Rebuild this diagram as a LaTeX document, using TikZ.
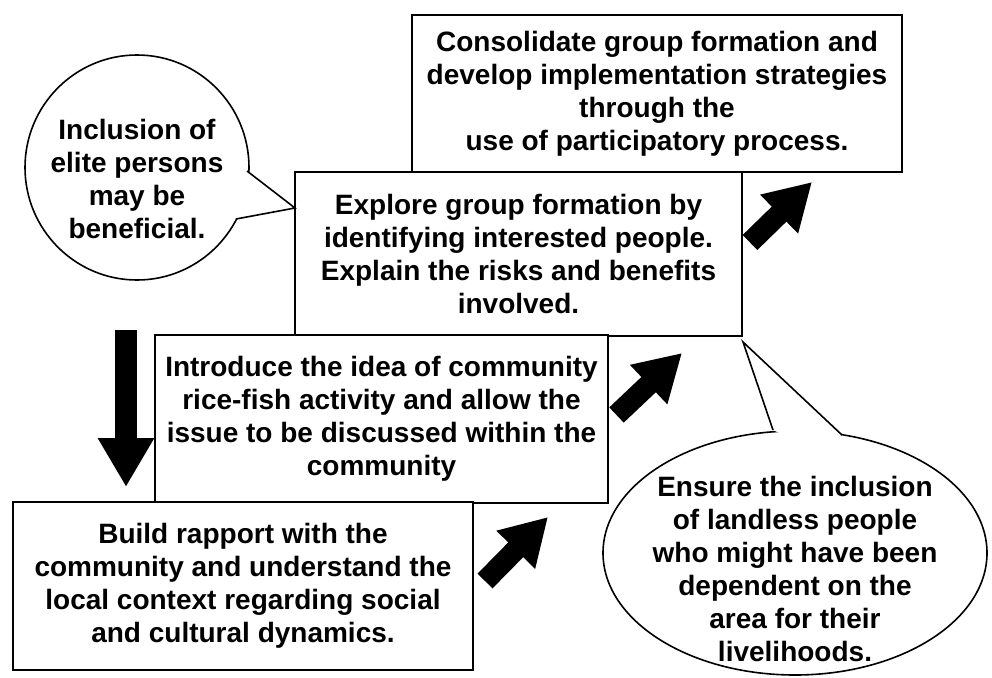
\documentclass[tikz,border=0pt]{standalone}
\usepackage{fontspec}
\setmainfont{Liberation Sans}
\usetikzlibrary{arrows.meta,shapes.geometric}
\newcommand\diagtxt{\fontsize{28}{33}\selectfont\bfseries}
\begin{document}
\begin{tikzpicture}[x=1pt,y=-1pt,
  box/.style={draw, line width=2.2pt, fill=white, align=center, inner sep=0pt, font=\diagtxt},
  bubble/.style={draw, ellipse, line width=1.6pt, fill=white, inner sep=0pt},
  bubbletext/.style={align=center, inner sep=0pt, font=\diagtxt},
  tailline/.style={line width=1.6pt, line join=miter},
  blockarrow/.style={line width=21pt, -{Triangle[length=46pt, width=51pt]}},
  downarrow/.style={line width=22pt, -{Triangle[length=49pt, width=53pt]}}]
\fill[white] (0,0) rectangle (992,677);
\useasboundingbox (0,0) rectangle (992,677);

% boxes
\node[box, minimum width=490pt, minimum height=157pt] (consolidate) at (657,93.5)
  {Consolidate group formation and\\develop implementation strategies\\through the\\use of participatory process.};
\node[box, minimum width=447pt, minimum height=164pt] (explore) at (518.5,254)
  {Explore group formation by\\identifying interested people.\\Explain the risks and benefits\\involved.};
\node[box, minimum width=453pt, minimum height=168pt] (introduce) at (381.5,419)
  {Introduce the idea of community\\rice-fish activity and allow the\\issue to be discussed within the\\community};
\node[box, minimum width=460pt, minimum height=168pt] (build) at (243,586)
  {Build rapport with the\\community and understand the\\local context regarding social\\and cultural dynamics.};

% callout: elite
\node[bubble, minimum width=224pt, minimum height=225pt] (elite) at (137,167.5) {};
\coordinate (eliteA) at (247,171);
\coordinate (eliteTip) at (295,208);
\coordinate (eliteB) at (236,219);
\fill[white] (eliteA) -- (eliteTip) -- (eliteB) -- (226,195) -- cycle;
\draw[tailline] (eliteA) -- (eliteTip) -- (eliteB);
\node[bubbletext] (elitetext) at (137,179) {Inclusion of\\elite persons\\may be\\beneficial.};

% callout: landless
\node[bubble, minimum width=384pt, minimum height=244pt] (landless) at (795,553) {};
\coordinate (landA) at (773,430);
\coordinate (landTip) at (743,342);
\coordinate (landB) at (842,435);
\fill[white] (landA) -- (landTip) -- (landB) -- (805,446) -- cycle;
\draw[tailline] (landA) -- (landTip) -- (landB);
\node[bubbletext] (landlesstext) at (795,569) {Ensure the inclusion\\of landless people\\who might have been\\dependent on the\\area for their\\livelihoods.};

% block arrows
\coordinate (d1) at (126,330);
\coordinate (d2) at (126,487);
\draw[downarrow] (d1) -- (d2);
\coordinate (a1) at (485,581);
\coordinate (a2) at (548,517);
\draw[blockarrow] (a1) -- (a2);
\coordinate (b1) at (616.5,415);
\coordinate (b2) at (682,353);
\draw[blockarrow] (b1) -- (b2);
\coordinate (c1) at (750,242.5);
\coordinate (c2) at (812,182);
\draw[blockarrow] (c1) -- (c2);
\end{tikzpicture}
\end{document}
